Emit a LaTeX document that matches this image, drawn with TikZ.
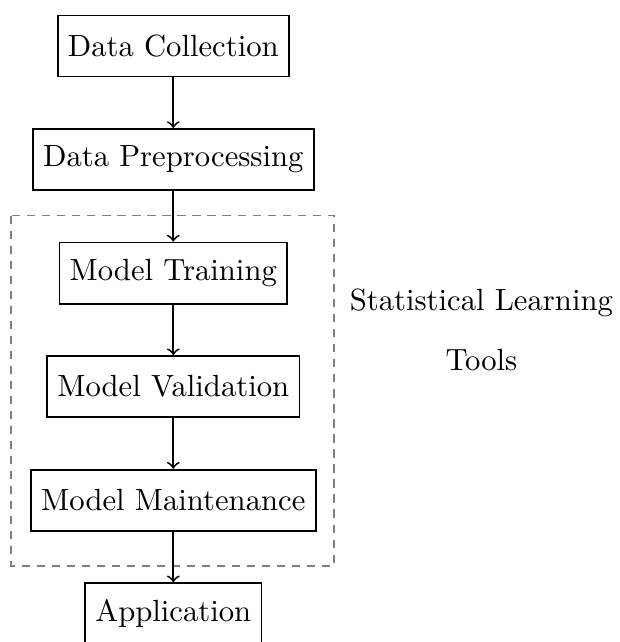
\documentclass[tikz,border=0pt]{standalone}
\usepackage{xcolor}
\usepackage{tikz}
\usepackage{amsmath}
\usetikzlibrary{positioning,calc}

\begin{document}
\begin{tikzpicture}[node distance=0.58cm, auto, semithick,
    stage/.style={draw, rectangle, minimum height=0.7cm},
    toolbox/.style={draw=gray, dash pattern=on 2.7pt off 2.2pt, semithick}]
    \useasboundingbox (-56.5pt,15pt) rectangle (145.3pt,-194.3pt);
    \node (collection) [stage] at (0,0) {Data Collection};
    \node (preprocessing) [stage, below=of collection] {Data Preprocessing};
    \node (training) [stage, below=of preprocessing] {Model Training};
    \node (validation) [stage, below=of training] {Model Validation};
    \node (maintenance) [stage, below=of validation] {Model Maintenance};
    \node (application) [stage, below=of maintenance] {Application};

    % dashed frame round the learning stages
    \draw[toolbox] ($(training.center)+(-1.86cm,0.66cm)$) rectangle ($(maintenance.center)+(1.845cm,-0.75cm)$);
    \node (tools) [align=center] at ($(training)!0.5!(validation)+(3.53cm,0)$) {Statistical Learning\\[7.4pt]Tools};

    \draw[->] (collection) -- (preprocessing);
    \draw[->] (preprocessing) -- (training);
    \draw[->] (training) -- (validation);
    \draw[->] (validation) -- (maintenance);
    \draw[->] (maintenance) -- (application);
\end{tikzpicture}
\end{document}
